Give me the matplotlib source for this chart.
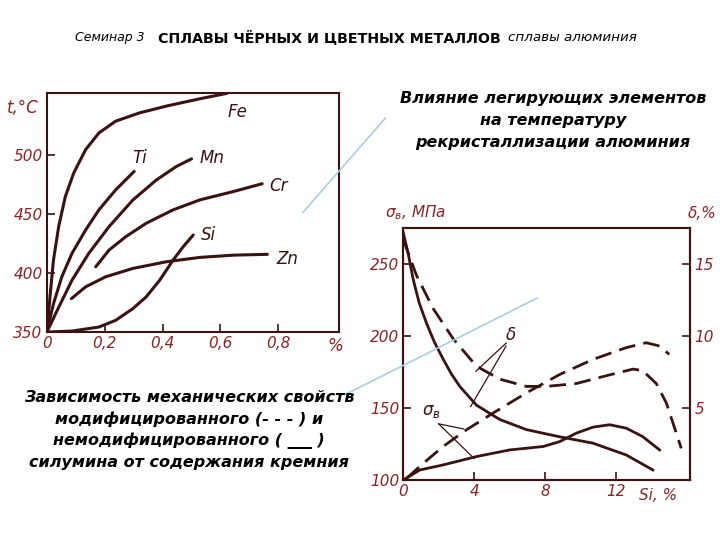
import matplotlib.pyplot as plt
from matplotlib.lines import Line2D

# colours of the scanned page
INK = '#3a1212'
LABEL = '#8a2424'
BLUE = '#a8cfe0'

# left chart: recrystallisation temperature vs alloying element content
fe_x = [0, 0.006, 0.012, 0.023, 0.041, 0.064, 0.093, 0.134, 0.18, 0.238, 0.32, 0.413, 0.529, 0.622]
fe_y = [350, 365.6, 382.7, 411, 439.5, 465, 485, 504.8, 519, 529, 536, 541.8, 548, 552.6]
ti_x = [0, 0.023, 0.052, 0.087, 0.134, 0.18, 0.238, 0.302]
ti_y = [350, 374, 397, 416.8, 436.6, 453.7, 470.7, 486.4]
mn_x = [0, 0.041, 0.087, 0.145, 0.215, 0.297, 0.378, 0.448, 0.5]
mn_y = [350, 371, 394, 416.8, 439.5, 462, 479, 490.6, 497]
cr_x = [0.169, 0.215, 0.273, 0.343, 0.436, 0.529, 0.645, 0.744]
cr_y = [405.4, 419.6, 431, 442.3, 453.7, 462.2, 469.3, 475.9]
si_x = [0, 0.087, 0.18, 0.238, 0.297, 0.343, 0.39, 0.436, 0.471, 0.506]
si_y = [350, 350.9, 354.3, 360, 369.9, 379.8, 394, 411, 422.4, 432.4]
zn_x = [0.085, 0.134, 0.203, 0.297, 0.413, 0.529, 0.645, 0.762]
zn_y = [378.4, 388.4, 396.9, 404, 409.7, 413.4, 415.3, 416]

left_xticks = [0, 0.2, 0.4, 0.6, 0.8]
left_xlabels = ['0', '0,2', '0,4', '0,6', '0,8']
left_yticks = [350, 400, 450, 500]

# right chart: silumin properties vs Si content
sb_sol_x = [0, 0.94, 2.25, 4.13, 6.0, 7.9, 8.83, 9.77, 10.7, 11.64, 12.58, 13.5, 14.46]
sb_sol_y = [100, 107, 110.5, 116.3, 120.9, 123.3, 126.7, 132.6, 136.7, 138.4, 136, 130.2, 120.9]
sb_dash_x = [0.19, 1.13, 2.25, 3.57, 5.07, 6.95, 8.83, 10.7, 12.58, 13.7, 14.46, 15.0]
sb_dash_y = [101.2, 111.6, 123.3, 134.9, 146.5, 160.5, 173.3, 183.7, 191.9, 195.3, 193, 187.2]
d_sol_x = [0, 0.3, 0.56, 0.9, 1.31, 1.75, 2.25, 2.7, 3.19, 4.13, 5.45, 6.95, 8.83, 10.7, 12.58, 14.08]
d_sol_y = [17.2, 15.6, 13.95, 12.3, 10.9, 9.6, 8.4, 7.4, 6.5, 5.2, 4.2, 3.5, 3.0, 2.56, 1.74, 0.7]
d_dash_x = [0, 0.75, 1.69, 2.82, 4.13, 5.45, 6.95, 8.08, 9.77, 11.64, 12.96, 13.5, 14.27, 14.84, 15.4, 15.68]
d_dash_y = [16.7, 14.2, 11.9, 9.8, 7.9, 7.0, 6.5, 6.5, 6.7, 7.3, 7.7, 7.6, 6.7, 5.35, 3.26, 2.2]

right_xticks = [0, 4, 8, 12]
right_xlabels = ['0', '4', '8', '12']
right_yticks = [100, 150, 200, 250]
delta_ticks = [5, 10, 15]

tick_font = dict(fontsize=11, style='italic', color=LABEL)
cap_font = dict(fontsize=11.5, weight='bold', style='italic', color='black', ha='center')

fig = plt.figure(figsize=(7.2, 5.4), dpi=100)

# --- left chart ---
ax1 = fig.add_axes([0.065, 0.385, 0.406, 0.443])
for xs, ys in [(fe_x, fe_y), (ti_x, ti_y), (mn_x, mn_y), (cr_x, cr_y), (si_x, si_y), (zn_x, zn_y)]:
    ax1.plot(xs, ys, color=INK, lw=2.2, solid_capstyle='round', solid_joinstyle='round')
ax1.set_xlim(0, 1.01)
ax1.set_ylim(350, 553)
ax1.set_xticks(left_xticks)
ax1.set_xticklabels(left_xlabels, **tick_font)
ax1.set_yticks(left_yticks)
ax1.set_yticklabels([str(v) for v in left_yticks], **tick_font)
ax1.tick_params(direction='in', length=6, width=1.2, color=INK, pad=3)
for s in ax1.spines.values():
    s.set_color(INK)
    s.set_linewidth(1.5)
for name, x, y in [('Fe', 0.66, 537), ('Ti', 0.32, 498), ('Mn', 0.57, 498),
                   ('Cr', 0.8, 474), ('Si', 0.56, 432), ('Zn', 0.83, 412)]:
    ax1.text(x, y, name, fontsize=12, style='italic', color=INK, ha='center', va='center')
fig.text(0.01, 0.79, 't,°C', fontsize=12, style='italic', color=LABEL)
fig.text(0.455, 0.35, '%', fontsize=12, style='italic', color=LABEL)

# --- right chart ---
ax2 = fig.add_axes([0.56, 0.111, 0.399, 0.467])
ax2.plot(sb_sol_x, sb_sol_y, color=INK, lw=2.0, solid_joinstyle='round')
ax2.plot(sb_dash_x, sb_dash_y, color=INK, lw=2.0, dashes=(6, 3))
ax2.set_xlim(0, 16.2)
ax2.set_ylim(100, 275)
ax2.set_xticks(right_xticks)
ax2.set_xticklabels(right_xlabels, **tick_font)
ax2.set_yticks(right_yticks)
ax2.set_yticklabels([str(v) for v in right_yticks], **tick_font)
ax2.tick_params(direction='in', length=6, width=1.2, color=INK, pad=3)
ax3 = ax2.twinx()
ax3.plot(d_sol_x, d_sol_y, color=INK, lw=2.0, solid_joinstyle='round')
ax3.plot(d_dash_x, d_dash_y, color=INK, lw=2.0, dashes=(6, 3))
ax3.set_ylim(0, 17.5)
ax3.set_yticks(delta_ticks)
ax3.set_yticklabels([str(v) for v in delta_ticks], **tick_font)
ax3.tick_params(direction='in', length=6, width=1.2, color=INK, pad=3)
for a in (ax2, ax3):
    for s in a.spines.values():
        s.set_color(INK)
        s.set_linewidth(1.5)

# leader lines to curve labels
ax2.text(6.1, 201, 'δ', fontsize=12, style='italic', color=INK, ha='center', va='center')
ax2.plot([5.8, 4.1], [195, 175.5], color=INK, lw=0.9)
ax2.plot([5.8, 3.8], [193, 151], color=INK, lw=0.9)
ax2.text(1.6, 148, 'σ$_в$', fontsize=12, style='italic', color=INK, ha='center', va='center')
ax2.plot([2.0, 3.4], [139, 135.5], color=INK, lw=0.9)
ax2.plot([2.0, 4.0], [139, 115], color=INK, lw=0.9)
fig.text(0.535, 0.597, 'σ$_в$, МПа', fontsize=11, style='italic', color=LABEL)
fig.text(0.955, 0.597, 'δ,%', fontsize=11, style='italic', color=LABEL)
fig.text(0.888, 0.083, 'Si, %', fontsize=11, style='italic', color=LABEL, va='center')

# blue pointer lines
fig.add_artist(Line2D([0.535, 0.421], [0.781, 0.607], color=BLUE, lw=1.2))
fig.add_artist(Line2D([0.746, 0.479], [0.448, 0.269], color=BLUE, lw=1.2))

# header
fig.text(0.104, 0.931, 'Семинар 3', fontsize=9, style='italic', va='center')
fig.text(0.219, 0.931, 'СПЛАВЫ ЧЁРНЫХ И ЦВЕТНЫХ МЕТАЛЛОВ', fontsize=10.3, weight='bold', va='center')
fig.text(0.705, 0.931, 'сплавы алюминия', fontsize=9.7, style='italic', va='center')

# captions
right_cap = ['Влияние легирующих элементов', 'на температуру', 'рекристаллизации алюминия']
for i, line in enumerate(right_cap):
    fig.text(0.768, 1 - (98 + 22 * i) / 540, line, va='center', **cap_font)
left_cap = ['Зависимость механических свойств', 'модифицированного (- - - ) и',
            'немодифицированного ( ___ )', 'силумина от содержания кремния']
for i, line in enumerate(left_cap):
    fig.text(0.263, 1 - (397 + 22 * i) / 540, line, va='center', **cap_font)

fig.savefig('out.png', dpi=100)
